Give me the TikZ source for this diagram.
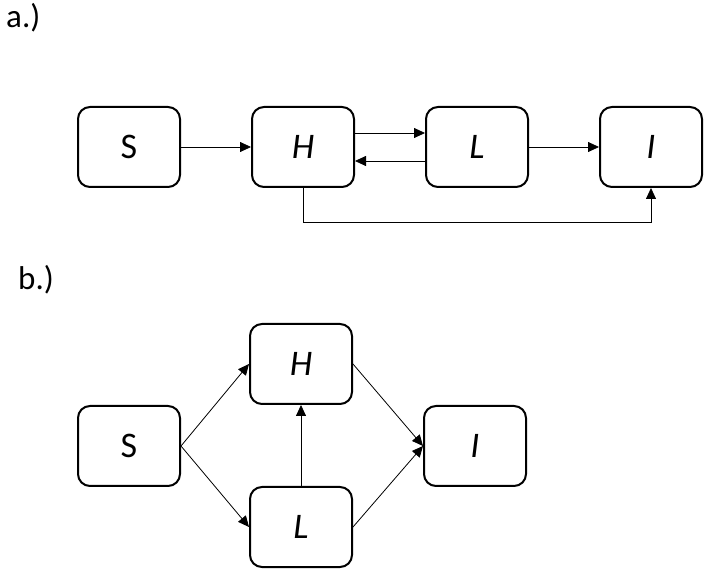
\documentclass[tikz,border=0pt]{standalone}
\usepackage{fontspec}
\setmainfont{Carlito}
\usetikzlibrary{arrows.meta}
\begin{document}
\begin{tikzpicture}[x=1pt,y=-1pt,
  box/.style={draw, line width=2pt, rounded corners=12pt, minimum width=102pt, minimum height=80pt, inner sep=0pt, font=\fontsize{36}{40}\selectfont},
  conn/.style={line width=0.8pt, -{Triangle[length=11pt,width=10pt]}},
  lbl/.style={anchor=base west, inner sep=0pt, font=\fontsize{33}{38}\selectfont}]
\useasboundingbox (0,0) rectangle (713,577);
\node[lbl] (la) at (6,28) {a.)};
\node[lbl] (lb) at (18,290) {b.)};
% part a
\node[box] (aS) at (129,147) {S};
\node[box] (aH) at (303,147) {\itshape H};
\node[box] (aL) at (477,147) {\itshape L};
\node[box] (aI) at (651,147) {\itshape I};
\coordinate (ylev) at (0,222);
\draw[conn] (aS) -- (aH);
\draw[conn] ([yshift=14pt]aH.east) -- ([yshift=14pt]aL.west);
\draw[conn] ([yshift=-14pt]aL.west) -- ([yshift=-14pt]aH.east);
\draw[conn] (aL) -- (aI);
\draw[conn] (aH.south) -- (aH.south |- ylev) -| (aI.south);
% part b
\node[box] (bS) at (129,446) {S};
\node[box] (bH) at (301,364) {\itshape H};
\node[box] (bL) at (301,527) {\itshape L};
\node[box] (bI) at (475,446) {\itshape I};
\draw[conn] (bS.east) -- (bH.west);
\draw[conn] (bS.east) -- (bL.west);
\draw[conn] (bL.north) -- (bH.south);
\draw[conn] (bH.east) -- (bI.west);
\draw[conn] (bL.east) -- (bI.west);
\end{tikzpicture}
\end{document}
